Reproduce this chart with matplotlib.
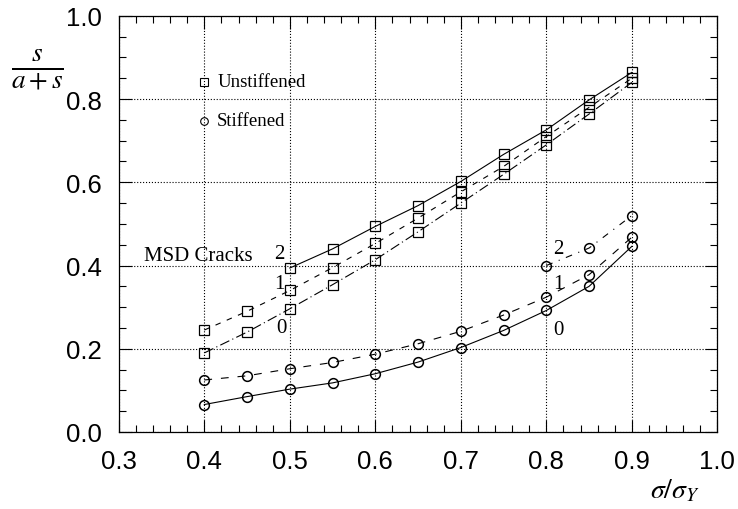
import numpy as np
import matplotlib
matplotlib.use("Agg")
from matplotlib import pyplot as plt
from matplotlib.ticker import MultipleLocator

# Datos #
x_full = [0.40, 0.45, 0.50, 0.55, 0.60, 0.65, 0.70, 0.75, 0.80, 0.85, 0.90]
x_u2 = [0.50, 0.55, 0.60, 0.65, 0.70, 0.75, 0.80, 0.85, 0.90]
x_s2 = [0.80, 0.85, 0.90]

unstiff_0 = [0.190, 0.240, 0.296, 0.354, 0.414, 0.481, 0.550, 0.619, 0.690, 0.764, 0.840]
unstiff_1 = [0.245, 0.290, 0.340, 0.395, 0.453, 0.514, 0.577, 0.638, 0.710, 0.780, 0.850]
unstiff_2 = [0.394, 0.440, 0.494, 0.544, 0.602, 0.667, 0.726, 0.798, 0.864]

stiff_0 = [0.066, 0.085, 0.103, 0.118, 0.140, 0.168, 0.203, 0.244, 0.292, 0.350, 0.446]
stiff_1 = [0.125, 0.135, 0.152, 0.167, 0.187, 0.212, 0.242, 0.281, 0.324, 0.378, 0.468]
stiff_2 = [0.400, 0.442, 0.520]

plt.rcParams['mathtext.fontset'] = 'stix'
serif = 'Liberation Serif'
sans = 'Liberation Sans'

fig = plt.figure(figsize=(7.38, 5.10), dpi=100)
ax = fig.add_axes([0.161, 0.151, 0.811, 0.816])

lw = 0.8
ms = 7
sq = dict(marker='s', mfc='none', mec='black', mew=0.9, ms=ms, color='black', lw=lw)
ci = dict(marker='o', mfc='none', mec='black', mew=1.1, ms=ms, color='black', lw=lw)

# Sin rigidizar #
ax.plot(x_full, unstiff_0, dashes=(9, 3, 1, 3), **sq)
ax.plot(x_full, unstiff_1, dashes=(5, 6), **sq)
ax.plot(x_u2, unstiff_2, ls='-', **sq)

# Rigidizado #
ax.plot(x_full, stiff_0, ls='-', **ci)
ax.plot(x_full, stiff_1, dashes=(7, 8), **ci)
ax.plot(x_s2, stiff_2, dashes=(6, 6, 1, 6), **ci)

ax.set_xlim(0.3, 1.0)
ax.set_ylim(0.0, 1.0)
ax.xaxis.set_major_locator(MultipleLocator(0.1))
ax.xaxis.set_minor_locator(MultipleLocator(0.02))
ax.yaxis.set_major_locator(MultipleLocator(0.2))
ax.yaxis.set_minor_locator(MultipleLocator(0.05))
ax.tick_params(which='both', direction='in', top=True, right=True, width=0.8)
ax.tick_params(which='major', length=9)
ax.tick_params(which='minor', length=5)
ax.tick_params(axis='both', labelsize=18.5, pad=12)
for lab in ax.get_xticklabels() + ax.get_yticklabels():
    lab.set_family(sans)
ax.xaxis.set_major_formatter(matplotlib.ticker.FormatStrFormatter('%.1f'))
ax.yaxis.set_major_formatter(matplotlib.ticker.FormatStrFormatter('%.1f'))

ax.grid(True, which='major', ls=':', color='black', lw=0.8)
for s in ax.spines.values():
    s.set_linewidth(0.9)

# Leyenda manual #
ax.plot([0.40], [0.842], marker='s', mfc='none', mec='black', mew=0.8, ms=5.5, ls='none')
ax.text(0.415, 0.842, 'Unstiffened', family=serif, fontsize=13.5, va='center')
ax.plot([0.40], [0.748], marker='o', mfc='none', mec='black', mew=0.8, ms=5.5, ls='none')
ax.text(0.415, 0.748, 'Stiffened', family=serif, fontsize=13.5, va='center')

ax.text(0.33, 0.423, 'MSD Cracks', family=serif, fontsize=15, va='center')
ax.text(0.482, 0.43, '2', family=serif, fontsize=15, va='center')
ax.text(0.482, 0.358, '1', family=serif, fontsize=15, va='center')
ax.text(0.484, 0.25, '0', family=serif, fontsize=15, va='center')
ax.text(0.808, 0.442, '2', family=serif, fontsize=15, va='center')
ax.text(0.808, 0.358, '1', family=serif, fontsize=15, va='center')
ax.text(0.808, 0.247, '0', family=serif, fontsize=15, va='center')

fig.text(37 / 738, 1 - 70 / 510, r'$\frac{s}{a+s}$', fontsize=28, ha='center', va='center')
fig.text(675 / 738, 1 - 490 / 510, r'$\sigma/\sigma_Y$', fontsize=20, ha='center', va='center')

fig.savefig('out.png', dpi=100)
